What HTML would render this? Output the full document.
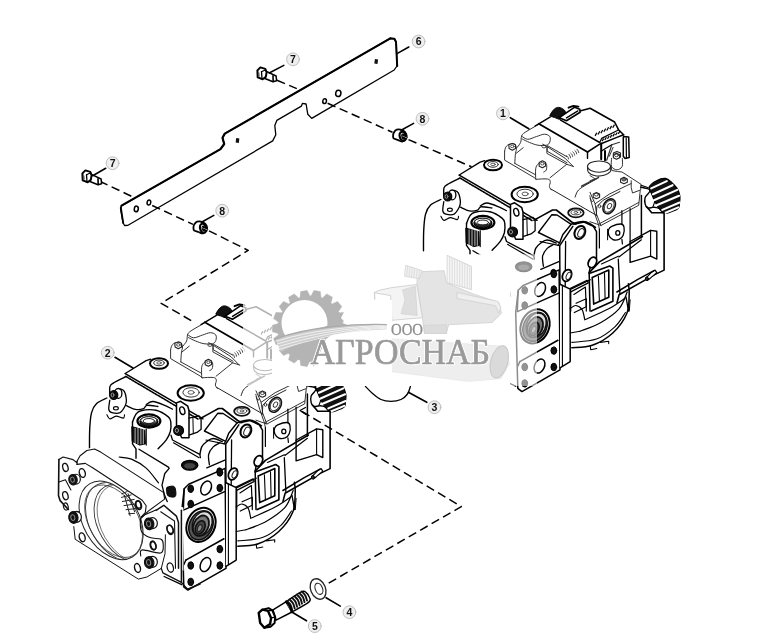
<!DOCTYPE html>
<html><head><meta charset="utf-8"><title>Hydrostatic pump</title>
<style>
html,body{margin:0;padding:0;background:#fff;}
body{width:781px;height:641px;overflow:hidden;font-family:"Liberation Sans",sans-serif;}
svg{display:block;will-change:transform;filter:blur(0.35px);}
.c{font-family:"Liberation Sans",sans-serif;font-weight:bold;font-size:10.5px;fill:#111;text-anchor:middle}
</style></head><body>
<svg width="781" height="641" viewBox="0 0 781 641" stroke-linecap="round" stroke-linejoin="round">
<defs>
<g id="pump">
<path d="M459.2,175 L480.1,162.1 484.8,160.7" fill="none" stroke="#000" stroke-width="1.3" />
<path d="M459.2,175.2 L537,220.3" fill="none" stroke="#000" stroke-width="1.5" />
<path d="M459.8,177.9 L532.9,221.1" fill="none" stroke="#000" stroke-width="1.6" stroke-dasharray="2.2 1.2"/>
<ellipse cx="493" cy="165" rx="9.01408" ry="5.3265" transform="rotate(0 493 165)" fill="#fff" stroke="#000" stroke-width="2.0"/>
<ellipse cx="493" cy="164.4" rx="5.3265" ry="2.86812" transform="rotate(0 493 164.4)" fill="none" stroke="#333" stroke-width="1.0"/>
<ellipse cx="493" cy="164.4" rx="2.25352" ry="1.22919" transform="rotate(0 493 164.4)" fill="none" stroke="#333" stroke-width="0.8"/>
<ellipse cx="524.7" cy="194.5" rx="13.1114" ry="7.78489" transform="rotate(0 524.7 194.5)" fill="#fff" stroke="#000" stroke-width="2.0"/>
<ellipse cx="525.1" cy="193.9" rx="8.19462" ry="4.71191" transform="rotate(0 525.1 193.9)" fill="none" stroke="#333" stroke-width="1.0"/>
<ellipse cx="525.1" cy="193.9" rx="3.07298" ry="1.84379" transform="rotate(0 525.1 193.9)" fill="none" stroke="#333" stroke-width="0.8"/>
<path d="M459.2,178.5 C457.2,179.5 449.8,183.0 447.3,184.6 C444.8,186.2 444.6,186.1 444,187.9 C443.4,189.7 443.8,194.2 443.8,195.5" fill="none" stroke="#000" stroke-width="1.4" />
<ellipse cx="447.7" cy="196.5" rx="4.09731" ry="4.50704" transform="rotate(0 447.7 196.5)" fill="#111" stroke="#000" stroke-width="1.2"/>
<ellipse cx="452.2" cy="194.9" rx="3.68758" ry="4.91677" transform="rotate(0 452.2 194.9)" fill="none" stroke="#000" stroke-width="1.3"/>
<ellipse cx="446.5" cy="196.5" rx="1.43406" ry="1.84379" transform="rotate(0 446.5 196.5)" fill="none" stroke="#999" stroke-width="1.0"/>
<path d="M443.8,201.7 C443.6,203.2 442.5,208.8 442.8,210.9 C443.1,213.0 444.0,213.6 445.9,214.1 C447.8,214.6 451.8,215.2 454,214.1 C456.2,212.9 458.1,209.3 459.2,207.2 C460.3,205.1 460.5,204.1 460.4,201.7 C460.2,199.3 459.4,194.7 458.3,192.8 C457.2,190.9 454.7,190.8 454,190.4" fill="none" stroke="#000" stroke-width="1.3" />
<ellipse cx="449.9" cy="209.8" rx="2.45839" ry="1.63892" transform="rotate(0 449.9 209.8)" fill="none" stroke="#000" stroke-width="1.1"/>
<path d="M460.4,207.2 C461.9,207.8 466.5,210.4 469.4,210.9 C472.3,211.4 475.7,210.8 477.6,210.1 C479.5,209.4 478.5,207.2 480.9,206.8 C483.3,206.5 490.1,207.8 491.9,208" fill="none" stroke="#000" stroke-width="1.3" />
<path d="M504.6,151.5 L504.6,160.1 534.1,177.5 536.2,179.3" fill="none" stroke="#333" stroke-width="1.0" />
<path d="M514.8,163.4 L535.7,174.9" fill="none" stroke="#333" stroke-width="1.0" />
<path d="M504.6,151.5 C504.8,150.9 504.9,148.8 505.5,147.7 C506.1,146.6 506.9,145.3 508.4,144.7 C509.8,144.0 512.9,143.2 514.2,143.8 C515.6,144.4 516.3,146.9 516.5,148.5 C516.7,150.1 515.8,150.9 515.5,153.4 C515.2,155.9 514.9,161.7 514.8,163.4" fill="none" stroke="#333" stroke-width="1.0" />
<path d="M508.8,144.7 L512.3,143.4 515.5,144.7 515.5,148.5 512.3,150.2 509.1,148.5 Z" fill="#fff" stroke="#222" stroke-width="1.1" />
<ellipse cx="512.3" cy="146.4" rx="1.79257" ry="1.28041" transform="rotate(0 512.3 146.4)" fill="none" stroke="#444" stroke-width="0.9"/>
<path d="M516.1,148.5 C516.9,147.5 519.7,144.6 520.6,142.5 C521.5,140.4 520.9,137.8 521.6,136.1 C522.4,134.4 522.3,134.2 525.1,132.3 C527.9,130.4 536.1,125.9 538.3,124.6" fill="none" stroke="#333" stroke-width="1.0" />
<path d="M521.6,136.1 C522.6,136.6 525.2,139.2 527.7,139.3 C530.2,139.4 533.8,137.3 536.6,136.5 C539.4,135.7 542.1,134.2 544.3,134.2 C546.5,134.2 548.9,135.2 549.8,136.5 C550.7,137.8 550.3,140.7 549.8,142.1 C549.2,143.5 548.5,144.7 546.5,145.2 C544.5,145.7 540.7,145.6 537.9,145.2 C535.1,144.8 532.2,143.5 529.6,142.5 C527.0,141.5 523.7,139.7 522.5,139.1" fill="none" stroke="#333" stroke-width="1.0" />
<ellipse cx="544" cy="146.5" rx="2.1767" ry="1.40845" transform="rotate(0 544 146.5)" fill="none" stroke="#333" stroke-width="0.9"/>
<path d="M546.9,146.4 L546.9,153.4 566.7,164.3 573.4,166.5" fill="none" stroke="#333" stroke-width="1.0" />
<path d="M547.5,145.7 L566.7,156.6" fill="none" stroke="#333" stroke-width="1.0" />
<path d="M523.2,147.7 L516.1,153.4" fill="none" stroke="#333" stroke-width="1.0" />
<path d="M535.7,179 C535.7,177.3 535.3,171.2 535.7,168.8 C536.1,166.4 536.7,165.5 537.9,164.3 C539.1,163.1 541.6,161.7 543,161.7 C544.4,161.7 546.0,162.9 546.5,164.3 C547.0,165.7 546.7,168.8 546.2,170.1 C545.7,171.4 544.1,171.7 543.7,172" fill="none" stroke="#333" stroke-width="1.0" />
<path d="M539.2,162.6 L542.4,160.8 545.6,162.4 545.6,166 542.4,167.8 539.2,166.2 Z" fill="#fff" stroke="#222" stroke-width="1.1" />
<ellipse cx="542.4" cy="163.7" rx="1.79257" ry="1.28041" transform="rotate(0 542.4 163.7)" fill="none" stroke="#444" stroke-width="0.9"/>
<path d="M536.2,179.3 C538.1,179.2 545.1,178.6 547.5,179 C549.9,179.4 550.0,180.3 550.3,181.6 C550.6,182.9 549.2,185.3 549.4,186.7 C549.6,188.1 551.0,189.4 551.3,189.9" fill="none" stroke="#333" stroke-width="1.0" />
<path d="M550.1,177.7 L566.7,164.3" fill="none" stroke="#333" stroke-width="1.0" />
<path d="M566.7,155.7 C566.9,156.0 567.7,156.8 568,157.3 C568.3,157.9 568.4,158.7 568.5,159" fill="none" stroke="#333" stroke-width="0.9" />
<path d="M568.8,154.4 C569.0,154.7 569.7,155.4 570,156 C570.3,156.6 570.4,157.5 570.5,157.8" fill="none" stroke="#333" stroke-width="0.9" />
<path d="M570.8,153.2 C571.0,153.4 571.8,154.1 572.1,154.7 C572.4,155.2 572.5,156.2 572.6,156.5" fill="none" stroke="#333" stroke-width="0.9" />
<path d="M572.8,151.9 C573.0,152.2 573.8,152.9 574.1,153.4 C574.4,153.9 574.5,154.9 574.6,155.2" fill="none" stroke="#333" stroke-width="0.9" />
<path d="M574.9,150.6 C575.1,150.8 575.9,151.5 576.2,152.1 C576.5,152.7 576.6,153.6 576.7,153.9" fill="none" stroke="#333" stroke-width="0.9" />
<path d="M576.9,149.3 C577.1,149.6 577.9,150.4 578.2,150.9 C578.5,151.4 578.6,152.3 578.7,152.6" fill="none" stroke="#333" stroke-width="0.9" />
<path d="M538.8,123.8 L587.5,152" fill="none" stroke="#000" stroke-width="1.8" />
<path d="M560.6,120.2 L599.7,142.5" fill="none" stroke="#000" stroke-width="1.5" />
<path d="M535,126 L538.8,123.8 550.4,116.9" fill="none" stroke="#000" stroke-width="1.4" />
<path d="M564.4,117.9 L573.4,112.8 590.1,108.2 614.6,122 618.5,129.7 623.6,134.8" fill="none" stroke="#000" stroke-width="1.6" />
<path d="M587.5,152 L599.7,144.2 616.9,137.4 623.6,134.8" fill="none" stroke="#000" stroke-width="1.5" />
<path d="M587.5,152 L587.5,158.4" fill="none" stroke="#000" stroke-width="1.4" />
<path d="M599.7,142.5 L601.6,138.4 616.9,130.7 618.5,129.7" fill="none" stroke="#000" stroke-width="1.2" />
<path d="M550.1,115.4 C550.1,114.1 552.8,110.5 554.2,109.2 C555.6,107.9 557.1,107.3 558.7,107.4 C560.3,107.5 562.6,108.5 563.8,109.6 C565.0,110.7 566.2,112.5 565.7,114.1 C565.2,115.7 562.5,118.7 560.6,119.2 C558.7,119.7 556.0,117.9 554.2,117.3 C552.5,116.7 550.1,116.8 550.1,115.4 Z" fill="#111" stroke="#000" stroke-width="1.0" />
<path d="M559.3,117.7 L574.7,107.2 579.8,109.2 580.1,112.3 566.5,120.7 Z" fill="#fff" stroke="#000" stroke-width="1.6" />
<path d="M566.5,117.9 L577.9,110.9" fill="none" stroke="#000" stroke-width="1.4" />
<path d="M568.5,107.7 L573.4,105.8 578.5,106.7" fill="none" stroke="#000" stroke-width="1.8" />
<path d="M596.8,132.7 L595.1,135.9" fill="none" stroke="#000" stroke-width="1.25" stroke-linecap="butt"/>
<path d="M599.8,131.3 L598,134.5" fill="none" stroke="#000" stroke-width="1.25" stroke-linecap="butt"/>
<path d="M602.7,130 L600.9,133.2" fill="none" stroke="#000" stroke-width="1.25" stroke-linecap="butt"/>
<path d="M605.7,128.6 L603.9,131.8" fill="none" stroke="#000" stroke-width="1.25" stroke-linecap="butt"/>
<path d="M608.6,127.3 L606.8,130.5" fill="none" stroke="#000" stroke-width="1.25" stroke-linecap="butt"/>
<path d="M611.6,125.9 L609.8,129.1" fill="none" stroke="#000" stroke-width="1.25" stroke-linecap="butt"/>
<path d="M614.5,124.6 L612.7,127.8" fill="none" stroke="#000" stroke-width="1.25" stroke-linecap="butt"/>
<path d="M603.8,138.5 L602.1,141.2" fill="none" stroke="#000" stroke-width="1.25" stroke-linecap="butt"/>
<path d="M606.4,137.3 L604.8,140" fill="none" stroke="#000" stroke-width="1.25" stroke-linecap="butt"/>
<path d="M609.1,136.1 L607.5,138.8" fill="none" stroke="#000" stroke-width="1.25" stroke-linecap="butt"/>
<path d="M611.8,134.9 L610.2,137.6" fill="none" stroke="#000" stroke-width="1.25" stroke-linecap="butt"/>
<path d="M614.5,133.7 L612.8,136.4" fill="none" stroke="#000" stroke-width="1.25" stroke-linecap="butt"/>
<path d="M617.2,132.5 L615.5,135.1" fill="none" stroke="#000" stroke-width="1.25" stroke-linecap="butt"/>
<path d="M619.9,131.2 L618.2,133.9" fill="none" stroke="#000" stroke-width="1.25" stroke-linecap="butt"/>
<path d="M623.6,136.5 L628.7,137.1 629.2,157.4 624.9,158.4 623.3,156.3 623.3,137.1 Z" fill="#fff" stroke="#000" stroke-width="1.5" />
<path d="M626.2,137.8 L626.4,157.6" fill="none" stroke="#000" stroke-width="1.2" />
<path d="M601.2,143.5 L601.2,159.2" fill="none" stroke="#000" stroke-width="2.0" />
<path d="M605,151 L605,160.2" fill="none" stroke="#000" stroke-width="2.0" />
<path d="M601.2,151.2 L605,148.7 611.8,144.8" fill="none" stroke="#000" stroke-width="1.3" />
<path d="M606.7,160.2 L611.8,144.8 619.5,142.3" fill="none" stroke="#333" stroke-width="1.2" />
<path d="M609.3,156.3 L613.1,147.4" fill="none" stroke="#333" stroke-width="1.0" />
<path d="M587.5,166.6 C587.7,167.6 587.2,170.8 588.5,172.3 C589.8,173.8 592.6,175.3 595.2,175.8 C597.8,176.3 601.6,176.0 604.1,175.3 C606.6,174.6 609.2,173.1 610.3,171.7 C611.4,170.2 610.5,167.4 610.5,166.6" fill="#fff" stroke="#222" stroke-width="1.1" />
<ellipse cx="599" cy="166.6" rx="11.5237" ry="5.6338" transform="rotate(0 599 166.6)" fill="#fff" stroke="#222" stroke-width="1.1"/>
<path d="M613.4,153.1 L616.9,151.5 620.5,153.1 620.5,157 616.9,158.6 613.4,157 Z" fill="#fff" stroke="#222" stroke-width="1.1" />
<ellipse cx="616.9" cy="154.8" rx="1.79257" ry="1.15237" transform="rotate(0 616.9 154.8)" fill="none" stroke="#444" stroke-width="0.9"/>
<path d="M611.6,158.3 C611.6,159.7 610.7,164.7 611.6,166.6 C612.5,168.5 615.1,169.8 616.9,169.8 C618.6,169.8 621.2,168.5 622.1,166.6 C623.0,164.7 622.3,159.7 622.3,158.3" fill="none" stroke="#333" stroke-width="1.0" />
<path d="M542.7,144.2 L547.2,146.7 565.1,158.3 573.4,166.6" fill="none" stroke="#333" stroke-width="1.0" />
<path d="M547.2,146.7 L547.2,151.2 567,162.7" fill="none" stroke="#333" stroke-width="1.0" />
<path d="M611.1,165.4 L611.8,170.5 617.5,171.5 622,172 641,184.3 640.7,189.9 632.5,193 631.2,187.4 631.2,180.7" fill="none" stroke="#333" stroke-width="1.0" />
<path d="M595.1,203.8 L609.2,194.2 626.1,185.9 631.2,183.5" fill="none" stroke="#333" stroke-width="1.0" />
<path d="M590,192.3 L595.1,203.8 596.7,214.7 600.9,225.5 638.7,205.3 640.2,190.7" fill="none" stroke="#333" stroke-width="1.0" />
<path d="M590,221.7 L600.9,225.5" fill="none" stroke="#333" stroke-width="1.0" />
<path d="M590,180.7 L595.1,178.8 590,175.6" fill="none" stroke="#333" stroke-width="0.9" />
<path d="M620.6,179 L623.9,177.3 627.3,179 627.3,182.3 623.9,183.8 620.6,182.3 Z" fill="#fff" stroke="#222" stroke-width="1.1" />
<ellipse cx="623.9" cy="179.6" rx="2.06402" ry="1.39821" transform="rotate(0 623.9 179.6)" fill="#777" stroke="#333" stroke-width="0.9"/>
<path d="M593.2,194 L596.4,192.4 599.6,194 599.6,197.2 596.4,198.7 593.2,197.2 Z" fill="#fff" stroke="#222" stroke-width="1.1" />
<ellipse cx="596.4" cy="194.7" rx="1.98464" ry="1.34443" transform="rotate(0 596.4 194.7)" fill="none" stroke="#333" stroke-width="0.9"/>
<path d="M613.4,154.8 L616.5,153.2 619.6,154.8 619.6,157.8 616.5,159.2 613.4,157.8 Z" fill="#fff" stroke="#222" stroke-width="1.1" />
<ellipse cx="616.5" cy="155.4" rx="1.90525" ry="1.29065" transform="rotate(0 616.5 155.4)" fill="none" stroke="#333" stroke-width="0.9"/>
<ellipse cx="609.2" cy="206.3" rx="5.6338" ry="7.93854" transform="rotate(30 609.2 206.3)" fill="#fff" stroke="#111" stroke-width="1.6"/>
<ellipse cx="609.2" cy="206.3" rx="4.35339" ry="6.40205" transform="rotate(30 609.2 206.3)" fill="none" stroke="#333" stroke-width="0.9"/>
<ellipse cx="609.5" cy="206.1" rx="1.92061" ry="2.8169" transform="rotate(30 609.5 206.1)" fill="none" stroke="#333" stroke-width="0.9"/>
<ellipse cx="599.6" cy="206.3" rx="1.28041" ry="1.53649" transform="rotate(0 599.6 206.3)" fill="none" stroke="#333" stroke-width="0.9"/>
<path d="M640.6,187.1 C641.5,187.3 644.7,187.9 646.3,188.4 C647.9,188.9 649.9,189.5 650.2,190.3 C650.5,191.2 649.1,192.3 648.3,193.5 C647.4,194.7 645.6,195.9 645.1,197.6 C644.6,199.3 644.7,202.1 645.1,203.8 C645.5,205.5 646.3,207.3 647.6,207.9 C648.9,208.5 651.2,207.5 652.7,207.4 C654.2,207.3 654.8,207.1 656.6,207.6 C658.4,208.1 662.4,209.8 663.6,210.2" fill="none" stroke="#000" stroke-width="1.4" />
<path d="M650.2,190.3 C650.8,191.1 653.2,193.0 654,194.8 C654.8,196.6 654.9,199.1 654.7,201.2 C654.5,203.3 653.0,206.4 652.7,207.4" fill="none" stroke="#000" stroke-width="1.2" />
<path d="M641.2,185.2 L648.3,187.8" fill="none" stroke="#000" stroke-width="1.2" />
<path d="M649.2,187.1 C650.1,185.0 653.9,182.1 656.6,180.7 C659.3,179.2 663.0,178.1 665.5,178.4 C668.0,178.7 670.0,181.0 671.9,182.7 C673.8,184.4 675.8,186.2 677.1,188.4 C678.4,190.6 679.5,193.5 679.9,196.1 C680.3,198.7 679.7,201.8 679.4,203.8 C679.1,205.8 679.5,207.0 678.3,208.3 C677.0,209.6 674.2,210.7 671.9,211.5 C669.6,212.3 666.4,213.9 664.3,213.4 C662.2,212.9 660.7,210.3 659.1,208.3 C657.5,206.3 656.0,203.7 654.7,201.2 C653.4,198.7 652.4,195.8 651.5,193.5 C650.6,191.2 648.4,189.2 649.2,187.1 Z" fill="#111" stroke="#000" stroke-width="1.2" />
<path d="M651.2,188.4 L666.8,181.1" fill="none" stroke="#fff" stroke-width="2.1" />
<path d="M653,194.2 L672.6,185.2" fill="none" stroke="#fff" stroke-width="2.1" />
<path d="M654,200.2 L677.3,189.9" fill="none" stroke="#fff" stroke-width="2.1" />
<path d="M656.6,205.3 L679.1,195.8" fill="none" stroke="#fff" stroke-width="2.1" />
<path d="M662.3,209.9 L679.6,202.5" fill="none" stroke="#fff" stroke-width="2.1" />
<path d="M664.9,213 L678.3,207.4" fill="none" stroke="#fff" stroke-width="2.1" />
<path d="M440.9,199.5 C439.2,200.4 433.2,202.6 430.6,205.1 C428.0,207.6 426.6,210.0 425.5,214.3 C424.4,218.6 424.0,224.6 423.7,230.7 C423.4,236.8 423.5,247.4 423.5,250.7" fill="none" stroke="#000" stroke-width="1.4" />
<path d="M440.9,216.3 C441.4,217.0 442.4,220.2 443.9,220.4 C445.4,220.6 447.9,217.7 450.1,217.6 C452.3,217.5 455.9,219.8 457.3,219.6 C458.7,219.4 458.3,216.9 458.5,216.3" fill="none" stroke="#000" stroke-width="1.1" />
<path d="M480.2,206.1 C481.3,205.6 483.8,202.8 487,203 C490.2,203.2 496.1,205.8 499.3,207.1 C502.5,208.4 505.2,210.0 506.4,210.6" fill="none" stroke="#000" stroke-width="1.3" />
<path d="M466.5,223.5 L466.5,245.4 470,250.3 470,259.8" fill="none" stroke="#000" stroke-width="1.4" />
<path d="M466.5,223.5 C467.0,222.3 468.2,218.2 469.6,216.3 C471.0,214.4 471.5,212.9 474.9,212.2 C478.3,211.4 485.4,210.8 490,211.8 C494.6,212.8 499.8,216.4 502.3,218.4 C504.8,220.4 504.5,221.3 504.8,223.7 C505.1,226.1 505.1,229.8 504.4,232.7 C503.6,235.6 502.4,238.4 500.3,241.3 C498.2,244.2 493.5,248.8 492.1,250.3" fill="none" stroke="#000" stroke-width="1.4" />
<ellipse cx="482.9" cy="222.5" rx="11.4725" ry="6.5557" transform="rotate(0 482.9 222.5)" fill="#fff" stroke="#000" stroke-width="2.2"/>
<ellipse cx="482.9" cy="223.1" rx="9.01408" ry="4.71191" transform="rotate(0 482.9 223.1)" fill="#222" stroke="#000" stroke-width="1.2"/>
<ellipse cx="482.9" cy="221.7" rx="8.19462" ry="3.48271" transform="rotate(0 482.9 221.7)" fill="#fff" stroke="#222" stroke-width="1.0"/>
<ellipse cx="482.9" cy="222.5" rx="5.73624" ry="2.45839" transform="rotate(0 482.9 222.5)" fill="none" stroke="#222" stroke-width="1.0"/>
<path d="M466.1,228.2 L478.8,231.7 479.4,245.4 473.7,246.6 466.5,243 Z" fill="#111" stroke="#000" stroke-width="1.0" />
<path d="M469.1,229.8 L469.1,245.4" fill="none" stroke="#fff" stroke-width="0.7" />
<path d="M472,229.8 L472,245.4" fill="none" stroke="#fff" stroke-width="0.7" />
<path d="M474.9,229.8 L474.9,245.4" fill="none" stroke="#fff" stroke-width="0.7" />
<path d="M477.3,229.8 L477.3,245.4" fill="none" stroke="#fff" stroke-width="0.7" />
<path d="M480.2,230.7 L480.2,246.6" fill="none" stroke="#000" stroke-width="1.2" />
<path d="M453.2,258.5 C455.2,258.9 461.0,258.8 465.5,260.6 C470.0,262.5 475.7,265.7 480.2,269.6 C484.7,273.6 490.4,281.9 492.5,284.3" fill="none" stroke="#000" stroke-width="1.2" />
<path d="M510.5,204.4 L514.6,202.8 521.8,207.7 523,212.2 523,239.3 515.7,239.3 510.5,227.8 Z" fill="#fff" stroke="#000" stroke-width="1.5" />
<ellipse cx="516.3" cy="212.2" rx="2.45839" ry="3.89245" transform="rotate(-15 516.3 212.2)" fill="none" stroke="#000" stroke-width="1.4"/>
<ellipse cx="512.6" cy="231.9" rx="4.91677" ry="4.91677" transform="rotate(0 512.6 231.9)" fill="#111" stroke="#000" stroke-width="1.2"/>
<ellipse cx="510.9" cy="231.9" rx="1.63892" ry="2.04866" transform="rotate(0 510.9 231.9)" fill="none" stroke="#999" stroke-width="1.0"/>
<path d="M523,219.6 L533.1,217.4 535.1,220.4 535.1,230.7 531,233.9 523.6,236.4" fill="none" stroke="#000" stroke-width="1.3" />
<path d="M526.9,218.8 L527.3,235.2" fill="none" stroke="#000" stroke-width="1.0" />
<path d="M590.2,198.4 L593.7,210.7 598.4,224.3 638.7,202.5" fill="none" stroke="#333" stroke-width="1.0" />
<path d="M598.4,224.3 L599.4,229.2" fill="none" stroke="#333" stroke-width="1.0" />
<ellipse cx="575.9" cy="212.8" rx="7.78489" ry="4.50704" transform="rotate(0 575.9 212.8)" fill="#fff" stroke="#111" stroke-width="1.8"/>
<ellipse cx="575.9" cy="212.4" rx="4.91677" ry="2.45839" transform="rotate(0 575.9 212.4)" fill="none" stroke="#333" stroke-width="0.9"/>
<ellipse cx="575.9" cy="212.4" rx="1.84379" ry="1.02433" transform="rotate(0 575.9 212.4)" fill="none" stroke="#333" stroke-width="0.8"/>
<path d="M573.8,224.3 L584,222 593.3,226.3 596.5,231.6 596.5,261.1 590.4,266 589.2,272.6" fill="none" stroke="#000" stroke-width="1.5" />
<path d="M572.8,226.3 L559.7,245.6 560.1,311.1" fill="none" stroke="#000" stroke-width="1.5" />
<path d="M565.6,241.5 L565,311.1" fill="none" stroke="#000" stroke-width="1.3" />
<path d="M540,241.5 L559.7,245.6" fill="none" stroke="#000" stroke-width="1.2" />
<ellipse cx="579.9" cy="232.4" rx="5.12164" ry="6.76056" transform="rotate(25 579.9 232.4)" fill="#fff" stroke="#000" stroke-width="2.0"/>
<ellipse cx="581" cy="232.9" rx="2.86812" ry="4.50704" transform="rotate(25 581 232.9)" fill="none" stroke="#222" stroke-width="1.0"/>
<ellipse cx="592.4" cy="262.4" rx="3.89245" ry="5.53137" transform="rotate(25 592.4 262.4)" fill="#fff" stroke="#000" stroke-width="1.8"/>
<ellipse cx="567" cy="275.5" rx="4.30218" ry="6.14597" transform="rotate(25 567 275.5)" fill="#fff" stroke="#000" stroke-width="1.8"/>
<ellipse cx="568.7" cy="275.9" rx="2.25352" ry="3.89245" transform="rotate(25 568.7 275.9)" fill="none" stroke="#222" stroke-width="1.0"/>
<ellipse cx="553.5" cy="272.6" rx="2.66325" ry="3.27785" transform="rotate(0 553.5 272.6)" fill="#111" stroke="#000" stroke-width="1.0"/>
<ellipse cx="553.5" cy="289" rx="2.66325" ry="3.27785" transform="rotate(0 553.5 289)" fill="#111" stroke="#000" stroke-width="1.0"/>
<path d="M599.4,229.2 L599.4,248" fill="none" stroke="#000" stroke-width="1.2" />
<path d="M607.6,229.2 L607.6,239.8" fill="none" stroke="#000" stroke-width="1.0" />
<path d="M621.9,210.7 L621.9,224.3" fill="none" stroke="#000" stroke-width="1.2" />
<path d="M621.9,239.4 L622.4,243.9" fill="none" stroke="#000" stroke-width="1.2" />
<path d="M630.1,208.7 L630.1,241.9" fill="none" stroke="#000" stroke-width="1.2" />
<path d="M608.6,229.6 C609.1,228.1 609.7,227.2 611.7,226.3 C613.8,225.4 618.9,223.9 620.9,224 C622.9,224.1 623.6,225.2 624,227.1 C624.4,229.0 624.0,233.2 623.2,235.3 C622.4,237.4 620.8,238.7 619.1,239.4 C617.4,240.1 614.6,240.3 612.9,239.6 C611.2,238.9 609.5,237.0 608.8,235.3 C608.1,233.6 608.1,231.1 608.6,229.6 Z" fill="#fff" stroke="#000" stroke-width="1.3" />
<ellipse cx="617.8" cy="232.9" rx="2.04866" ry="2.25352" transform="rotate(0 617.8 232.9)" fill="none" stroke="#000" stroke-width="1.3"/>
<path d="M641.4,195.4 L641.4,237.8" fill="none" stroke="#000" stroke-width="1.5" />
<path d="M646.5,206.6 L651.7,212.8 664.1,212.8 664.1,270.1 654.7,274.6 619.1,294.7 617,302.9" fill="none" stroke="#000" stroke-width="1.6" />
<path d="M630.1,241.5 L650.6,230.4 656.8,231.2 656.8,259.1 650.6,256.2 630.1,262.4 Z" fill="none" stroke="#000" stroke-width="1.4" />
<path d="M650.6,230.4 L650.6,256.2" fill="none" stroke="#000" stroke-width="1.1" />
<path d="M589.2,272.6 L599.4,261.9 642.4,236.5" fill="none" stroke="#000" stroke-width="1.6" />
<path d="M618.9,257 L641.4,239.8" fill="none" stroke="#000" stroke-width="1.2" />
<path d="M618.3,259.1 L619.9,293.9" fill="none" stroke="#000" stroke-width="1.3" />
<path d="M601.5,264 L618.3,256.2" fill="none" stroke="#000" stroke-width="1.2" />
<path d="M589.2,273.4 L609.7,266 612.9,268.1 612.9,301.3 591.2,311.1" fill="none" stroke="#000" stroke-width="1.6" />
<path d="M592.2,277.5 L608.8,270.1 608.8,297.2 593.7,304.1 Z" fill="none" stroke="#000" stroke-width="1.6" />
<path d="M598.4,276.3 L599.4,301.3" fill="none" stroke="#000" stroke-width="1.1" />
<path d="M604.5,273.4 L605.1,298.4" fill="none" stroke="#000" stroke-width="1.1" />
<path d="M589.2,273.4 L590,311.1" fill="none" stroke="#000" stroke-width="1.5" />
<path d="M645.5,278.7 L651.7,272.2 655.1,270.1 656.8,272.6 650.6,277.9 647.3,280.4 Z" fill="#fff" stroke="#000" stroke-width="1.2" />
<ellipse cx="646.9" cy="278.7" rx="1.43406" ry="1.84379" transform="rotate(0 646.9 278.7)" fill="#333" stroke="#000" stroke-width="1.0"/>
<path d="M569.9,288.6 L587.1,280.4 588.3,282.8 570.7,291.9 Z" fill="none" stroke="#000" stroke-width="1.3" />
<path d="M570.7,291.9 L570.7,311.1" fill="none" stroke="#000" stroke-width="1.3" />
<path d="M576.1,303.3 L586.3,298.8 586.3,311.1" fill="none" stroke="#000" stroke-width="1.2" />
<path d="M626,296.8 L628.5,311.1" fill="none" stroke="#000" stroke-width="1.3" />
<path d="M630.1,299.8 L629.3,311.1" fill="none" stroke="#000" stroke-width="1.0" />
<path d="M518.2,290.3 L522.7,285.8 559.1,269.9 560,369.8 521.9,391.6 517.8,388.3 515.7,312.5 Z" fill="#fff" stroke="#000" stroke-width="1.5" />
<path d="M518.2,290.3 L517.4,310.8" fill="none" stroke="#000" stroke-width="1.4" />
<path d="M517.4,311.7 L558.7,293.2" fill="none" stroke="#000" stroke-width="1.4" />
<path d="M519.8,361.6 L557.9,340.3" fill="none" stroke="#000" stroke-width="1.6" />
<path d="M519.8,361.6 L517.8,366.1" fill="none" stroke="#000" stroke-width="1.4" />
<ellipse cx="540.1" cy="289.5" rx="4.91677" ry="7.37516" transform="rotate(25 540.1 289.5)" fill="#fff" stroke="#000" stroke-width="1.5"/>
<ellipse cx="524.7" cy="290.3" rx="2.86812" ry="3.68758" transform="rotate(0 524.7 290.3)" fill="#111" stroke="#000" stroke-width="1.0"/>
<ellipse cx="524.7" cy="305.5" rx="2.86812" ry="3.68758" transform="rotate(0 524.7 305.5)" fill="#111" stroke="#000" stroke-width="1.0"/>
<ellipse cx="553.8" cy="289.5" rx="2.86812" ry="3.68758" transform="rotate(0 553.8 289.5)" fill="#111" stroke="#000" stroke-width="1.0"/>
<ellipse cx="553.8" cy="274" rx="2.86812" ry="3.68758" transform="rotate(0 553.8 274)" fill="#111" stroke="#000" stroke-width="1.0"/>
<ellipse cx="535" cy="326.4" rx="13.9309" ry="17.6184" transform="rotate(25 535 326.4)" fill="#fff" stroke="#000" stroke-width="2.0"/>
<ellipse cx="535" cy="326.8" rx="11.4725" ry="15.1601" transform="rotate(25 535 326.8)" fill="#555" stroke="#111" stroke-width="1.6"/>
<ellipse cx="536.2" cy="325.2" rx="9.42382" ry="12.7017" transform="rotate(25 536.2 325.2)" fill="#ddd" stroke="#111" stroke-width="1.4"/>
<ellipse cx="535" cy="327.2" rx="7.37516" ry="10.653" transform="rotate(25 535 327.2)" fill="#777" stroke="#111" stroke-width="1.8"/>
<ellipse cx="534.2" cy="328.9" rx="4.50704" ry="6.96543" transform="rotate(25 534.2 328.9)" fill="#444" stroke="#111" stroke-width="1.6"/>
<ellipse cx="533.7" cy="329.7" rx="2.04866" ry="3.68758" transform="rotate(25 533.7 329.7)" fill="#888" stroke="#222" stroke-width="1.2"/>
<ellipse cx="539.5" cy="366.1" rx="4.91677" ry="7.37516" transform="rotate(25 539.5 366.1)" fill="#fff" stroke="#000" stroke-width="1.5"/>
<ellipse cx="524.7" cy="367" rx="2.86812" ry="3.68758" transform="rotate(0 524.7 367)" fill="#111" stroke="#000" stroke-width="1.0"/>
<ellipse cx="524.7" cy="383.4" rx="2.86812" ry="3.68758" transform="rotate(0 524.7 383.4)" fill="#111" stroke="#000" stroke-width="1.0"/>
<ellipse cx="553.8" cy="350.6" rx="2.86812" ry="3.68758" transform="rotate(0 553.8 350.6)" fill="#111" stroke="#000" stroke-width="1.0"/>
<ellipse cx="553.8" cy="367" rx="2.86812" ry="3.68758" transform="rotate(0 553.8 367)" fill="#111" stroke="#000" stroke-width="1.0"/>
<path d="M560,284.2 L570.2,289.1 570.2,361.6 560,367.8" fill="#fff" stroke="#000" stroke-width="1.5" />
<path d="M562.4,285.8 L562.4,366.1" fill="none" stroke="#000" stroke-width="1.1" />
<path d="M498.1,378 L515.7,386.2" fill="none" stroke="#000" stroke-width="1.3" />
<path d="M570.2,308.4 C571.2,307.9 573.9,305.3 575.9,305.5 C577.9,305.7 580.6,307.4 582.1,309.6 C583.6,311.9 584.2,317.4 584.6,319" fill="none" stroke="#000" stroke-width="1.2" />
<path d="M571.8,347.7 C575.2,347.3 585.5,347.8 592.3,345.3 C599.1,342.9 607.0,338.3 612.8,333 C618.5,327.7 624.1,320.0 626.8,313.5 C629.5,307.0 628.9,298.9 629.2,294 C629.5,289.1 628.5,285.5 628.4,283.8" fill="none" stroke="#000" stroke-width="1.5" />
<path d="M580,331.3 C583.4,329.9 594.0,326.4 600.5,322.7 C607.0,318.9 614.5,313.9 619,308.8 C623.5,303.7 625.8,294.8 627.2,292" fill="none" stroke="#000" stroke-width="1.2" />
<path d="M571.8,342.4 C575.9,341.8 589.2,341.7 596.4,339.1 C603.6,336.5 610.0,331.2 614.9,326.8 C619.8,322.4 623.7,314.9 625.5,312.5" fill="none" stroke="#000" stroke-width="1.1" />
<path d="M584.6,319.8 C588.6,318.0 602.0,312.4 608.7,308.8 C615.5,305.2 622.4,299.9 625.1,298.1" fill="none" stroke="#000" stroke-width="1.2" />
<path d="M590.3,346.1 L590.7,349.8 596.8,348.5" fill="none" stroke="#000" stroke-width="1.1" />
<path d="M600.5,342.4 L608.7,341.2 608.7,343.6" fill="none" stroke="#000" stroke-width="1.1" />
<path d="M571,289.1 L590.3,279.7" fill="none" stroke="#000" stroke-width="1.2" />
<path d="M573.9,294.4 L585.4,287.1 586.2,306.7 574.3,312.5" fill="none" stroke="#000" stroke-width="1.2" />
<path d="M616.9,292 L637.4,279.7 654,270.7" fill="none" stroke="#000" stroke-width="1.5" />
<path d="M570.2,333 L580,331.3" fill="none" stroke="#000" stroke-width="1.1" />
<path d="M533.9,220.2 L542.3,215.6 552.5,210 556.3,210 571.7,222 575.8,224.1" fill="none" stroke="#000" stroke-width="1.6" />
<path d="M538.4,232.5 L551.9,214.7 557.1,215 571.2,224.3 562.7,234.8 559.7,242.8 Z" fill="none" stroke="#000" stroke-width="1.4" />
<path d="M571.2,224.3 C572.1,224.0 574.8,223.0 576.8,222.5 C578.8,222.0 581.1,221.3 583.2,221.4 C585.3,221.5 587.6,222.3 589.6,223.3 C591.6,224.3 594.5,226.7 595.5,227.4" fill="none" stroke="#000" stroke-width="1.5" />
<path d="M559.7,242.8 L557.9,245.3" fill="none" stroke="#000" stroke-width="1.2" />
<path d="M473,250.7 L502.4,268.6 503.2,269.9 498.8,275 496,286.6 498.6,296.8 501.4,303.5" fill="none" stroke="#000" stroke-width="1.3" />
<path d="M505,236.6 L506.5,241.5 533.8,255.8 534.4,259" fill="none" stroke="#000" stroke-width="1.3" />
<path d="M507.5,244.3 L533.1,259.2" fill="none" stroke="#000" stroke-width="1.2" />
<path d="M533.9,255.8 C534.2,254.6 534.6,250.5 535.7,248.4 C536.9,246.3 538.9,244.4 540.8,243 C542.7,241.6 544.6,240.0 547.2,240 C549.8,240.0 554.7,242.5 556.2,243" fill="none" stroke="#000" stroke-width="1.4" />
<path d="M543.4,266.3 C543.3,264.6 542.0,259.1 542.6,256.1 C543.2,253.1 545.3,250.4 547.2,248.4 C549.1,246.4 552.8,245.0 553.9,244.3" fill="none" stroke="#000" stroke-width="1.3" />
<path d="M540.8,269.4 L558.8,261.7" fill="none" stroke="#000" stroke-width="1.3" />
<ellipse cx="523.7" cy="266.8" rx="8.19462" ry="4.86556" transform="rotate(0 523.7 266.8)" fill="#111" stroke="#000" stroke-width="1.2"/>
<ellipse cx="523.7" cy="267.4" rx="5.12164" ry="2.30474" transform="rotate(0 523.7 267.4)" fill="#444" stroke="#444" stroke-width="0.8"/>
<path d="M501.1,288.9 C502.2,288.0 506.1,287.3 507.5,287.8 C508.9,288.3 509.3,290.0 509.6,291.7 C509.9,293.4 510.3,297.1 509.1,298.1 C507.9,299.1 503.8,298.5 502.4,297.6 C501.0,296.8 500.8,294.4 500.6,293 C500.4,291.6 500.0,289.8 501.1,288.9 Z" fill="#111" stroke="#000" stroke-width="1.0" />
<path d="M550.7,188.9 L596.8,215.5" fill="none" stroke="#222" stroke-width="1.0" />
<path d="M575.1,197.1 C575.5,196.1 576.3,192.9 577.6,191.2 C578.9,189.5 579.5,189.0 582.7,186.9 C585.9,184.8 594.4,180.1 596.8,178.7" fill="none" stroke="#222" stroke-width="1.0" />
<path d="M581.7,186.1 L598.4,177.6" fill="none" stroke="#333" stroke-width="1.6" stroke-dasharray="1.2 1"/>
<path d="M596.3,215.8 L596.8,206.6 603.2,200.2 620,191.5" fill="none" stroke="#222" stroke-width="1.0" />
<path d="M589.8,195.8 C590.1,196.8 591.0,200.8 591.7,201.5 C592.4,202.2 593.4,200.4 593.8,200.2" fill="none" stroke="#222" stroke-width="0.9" />
</g>
</defs>
<rect width="781" height="641" fill="#fff"/>
<path d="M121.8,205.6 L220.5,149.1 224.2,144 222.5,137.8 224.8,133.6 390.3,38.4 394.5,38.6 396.2,42 397,66 394.2,70 311.7,118.4 307.8,114.3 306.1,104 302.4,103.4 301.4,106.1 276.8,120.4 274.8,125.6 275.8,134.8 272.7,140.9 128,225.3 124.5,225.5 123,222.5 120.5,208.5 Z" fill="#fff" stroke="#000" stroke-width="1.3" />
<path d="M121.5,205.6 L220.5,149.1 224.2,144 222.5,137.8 224.8,133.6 390.3,38.4" fill="none" stroke="#000" stroke-width="2.2" />
<path d="M120.8,207.5 L123.2,223" fill="none" stroke="#000" stroke-width="1.8" />
<path d="M390.3,38.4 L394.3,38.8 396,42 397.2,66" fill="none" stroke="#000" stroke-width="2.0" />
<ellipse cx="338.3" cy="93.4" rx="2.6" ry="3.2" transform="rotate(10 338.3 93.4)" fill="#fff" stroke="#000" stroke-width="1.5"/>
<ellipse cx="324.6" cy="101.2" rx="1.8" ry="2.4" transform="rotate(10 324.6 101.2)" fill="#fff" stroke="#000" stroke-width="1.5"/>
<ellipse cx="136.3" cy="208.9" rx="2" ry="2.8" transform="rotate(10 136.3 208.9)" fill="#fff" stroke="#000" stroke-width="1.5"/>
<ellipse cx="148.9" cy="202.5" rx="1.8" ry="2.6" transform="rotate(10 148.9 202.5)" fill="#fff" stroke="#000" stroke-width="1.5"/>
<rect x="374.59999999999997" y="59.3" width="3.2" height="4.4" fill="#111" transform="rotate(8 376.2 61.5)"/>
<rect x="235.9" y="138.3" width="3.2" height="4.4" fill="#111" transform="rotate(8 237.5 140.5)"/>
<use href="#pump"/>
<use href="#pump" transform="translate(-334.0 198.5)"/>
<path d="M58.8,458.8 L73.8,456.4 79.9,454.3 89.2,448.2 99.4,446.1 162.9,493.7 165.4,501.5 183.4,507.6 183.4,571.1 165.4,554.7 Z" fill="#fff" stroke="none" stroke-width="0" />
<path d="M73.8,512.3 L73.8,528.7 75.2,539.9 138.3,579.5 146.9,577.4 161.3,568.6 165.4,553.3 165.4,512.3 Z" fill="#fff" stroke="none" stroke-width="0" />
<path d="M58.9,459.6 L63.1,457 73,459.6 77,462.8" fill="none" stroke="#111" stroke-width="1.2" />
<path d="M58.9,459.6 L58.5,495.7 60.1,500.6 68.4,509.5" fill="none" stroke="#111" stroke-width="1.6" />
<path d="M58.9,481.9 L65.4,479.7 70.9,489.9" fill="none" stroke="#111" stroke-width="1.1" />
<ellipse cx="65.4" cy="467.4" rx="2.61204" ry="4.14853" transform="rotate(-15 65.4 467.4)" fill="none" stroke="#111" stroke-width="1.3"/>
<ellipse cx="65.4" cy="495.7" rx="2.61204" ry="4.14853" transform="rotate(-15 65.4 495.7)" fill="none" stroke="#111" stroke-width="1.3"/>
<ellipse cx="65.8" cy="506.5" rx="2.30474" ry="3.68758" transform="rotate(-15 65.8 506.5)" fill="none" stroke="#111" stroke-width="1.1"/>
<ellipse cx="75.9" cy="479.2" rx="4.44046" ry="4.96287" transform="rotate(0 75.9 479.2)" fill="#fff" stroke="#111" stroke-width="1.2"/>
<ellipse cx="73" cy="479.7" rx="4.17926" ry="5.22407" transform="rotate(-10 73 479.7)" fill="#111" stroke="#111" stroke-width="1.2"/>
<ellipse cx="72.5" cy="479.7" rx="1.82843" ry="2.61204" transform="rotate(-10 72.5 479.7)" fill="none" stroke="#888" stroke-width="1.0"/>
<ellipse cx="76.9" cy="516.7" rx="4.70166" ry="5.2548" transform="rotate(0 76.9 516.7)" fill="#fff" stroke="#111" stroke-width="1.2"/>
<ellipse cx="73.8" cy="517.2" rx="4.4251" ry="5.53137" transform="rotate(-10 73.8 517.2)" fill="#111" stroke="#111" stroke-width="1.2"/>
<ellipse cx="73.3" cy="517.2" rx="1.93598" ry="2.76569" transform="rotate(-10 73.3 517.2)" fill="none" stroke="#888" stroke-width="1.0"/>
<path d="M77,461.3 L80.1,455.8 86.9,450.5 94.6,449 100.7,452.1 163.7,492.6 164.6,499.1 148.3,511.1 142.2,517.2" fill="none" stroke="#111" stroke-width="1.1" />
<path d="M77,464.4 L85.3,463.4 93,468 142.2,500.3 146.2,505.8 145.3,512.6 141,517.2" fill="none" stroke="#111" stroke-width="1.1" />
<path d="M77,461.3 L77,464.4" fill="none" stroke="#111" stroke-width="1.1" />
<ellipse cx="82.3" cy="473" rx="2.91933" ry="4.45583" transform="rotate(-15 82.3 473)" fill="none" stroke="#111" stroke-width="1.4"/>
<ellipse cx="138.5" cy="505.2" rx="2.91933" ry="4.45583" transform="rotate(-15 138.5 505.2)" fill="none" stroke="#111" stroke-width="1.4"/>
<ellipse cx="111.1" cy="520.3" rx="42.4" ry="27.7" transform="rotate(60 111.1 520.3)" fill="#fff" stroke="#222" stroke-width="1.0"/>
<ellipse cx="113.6" cy="521.3" rx="39.5" ry="24.5" transform="rotate(60 113.6 521.3)" fill="none" stroke="#444" stroke-width="0.8"/>
<clipPath id="opc"><ellipse cx="111.1" cy="520.3" rx="42" ry="27.3" transform="rotate(60 111.1 520.3)"/></clipPath>
<g clip-path="url(#opc)"><ellipse cx="117.6" cy="521.8" rx="42.4" ry="27.7" transform="rotate(60 117.6 521.8)" fill="none" stroke="#333" stroke-width="0.9"/><ellipse cx="126.1" cy="523.3" rx="42.4" ry="27.7" transform="rotate(60 126.1 523.3)" fill="none" stroke="#333" stroke-width="0.9"/><ellipse cx="129.1" cy="523.8" rx="42.4" ry="27.7" transform="rotate(60 129.1 523.8)" fill="none" stroke="#555" stroke-width="0.7"/></g>
<path d="M121.9,493.7 L127.1,491.6" fill="none" stroke="#222" stroke-width="1.0" />
<path d="M121.5,497.4 L131.2,494.9" fill="none" stroke="#222" stroke-width="1.0" />
<path d="M122.4,501.5 L134.2,499.4" fill="none" stroke="#222" stroke-width="1.0" />
<path d="M124,505.6 L135.9,503.9" fill="none" stroke="#222" stroke-width="1.0" />
<path d="M126,509.7 L135.9,508.6" fill="none" stroke="#222" stroke-width="1.0" />
<path d="M128.5,513.8 L134.6,513.3" fill="none" stroke="#222" stroke-width="1.0" />
<path d="M124.4,495.3 L130.1,515.8" fill="none" stroke="#222" stroke-width="1.0" />
<path d="M128.1,493.7 L134.6,511.7" fill="none" stroke="#222" stroke-width="1.0" />
<path d="M156.1,509.9 C154.3,510.7 147.9,513.0 145.3,514.6 C142.7,516.2 141.3,516.4 140.7,519.2 C140.1,522.0 140.0,528.4 141.5,531.5 C143.0,534.6 146.7,536.3 149.9,537.6 C153.1,538.9 158.5,538.0 160.7,539.1 C162.9,540.2 163.2,541.8 163.2,544.1 C163.2,546.4 164.2,552.0 160.7,553 C157.2,554.0 145.6,549.4 142.3,549.9 C139.0,550.4 141.0,555.0 140.7,556" fill="none" stroke="#111" stroke-width="1.1" />
<ellipse cx="152.4" cy="523.2" rx="4.96287" ry="5.54673" transform="rotate(0 152.4 523.2)" fill="#fff" stroke="#111" stroke-width="1.2"/>
<ellipse cx="149.2" cy="523.8" rx="4.67093" ry="5.83867" transform="rotate(-10 149.2 523.8)" fill="#111" stroke="#111" stroke-width="1.2"/>
<ellipse cx="148.6" cy="523.8" rx="2.04353" ry="2.91933" transform="rotate(-10 148.6 523.8)" fill="none" stroke="#888" stroke-width="1.0"/>
<ellipse cx="152.4" cy="561.9" rx="4.96287" ry="5.54673" transform="rotate(0 152.4 561.9)" fill="#fff" stroke="#111" stroke-width="1.2"/>
<ellipse cx="149.2" cy="562.5" rx="4.67093" ry="5.83867" transform="rotate(-10 149.2 562.5)" fill="#111" stroke="#111" stroke-width="1.2"/>
<ellipse cx="148.6" cy="562.5" rx="2.04353" ry="2.91933" transform="rotate(-10 148.6 562.5)" fill="none" stroke="#888" stroke-width="1.0"/>
<ellipse cx="138.4" cy="504.6" rx="2.45839" ry="3.68758" transform="rotate(-15 138.4 504.6)" fill="none" stroke="#111" stroke-width="1.4"/>
<ellipse cx="153.3" cy="545.6" rx="2.45839" ry="3.99488" transform="rotate(-15 153.3 545.6)" fill="none" stroke="#111" stroke-width="1.4"/>
<path d="M156.1,510.3 L163.8,505.3 176.4,516.1 178.5,522.5 178.5,568.3" fill="none" stroke="#111" stroke-width="1.5" />
<path d="M160.7,511.8 L174.5,521 175.5,568.3" fill="none" stroke="#111" stroke-width="1.1" />
<ellipse cx="169.9" cy="529.3" rx="2.76569" ry="4.30218" transform="rotate(-20 169.9 529.3)" fill="none" stroke="#111" stroke-width="1.3"/>
<path d="M73.8,526.6 L75.2,539.3 138.3,579.1 146.9,577 161.3,568.4 165,553.7 165.4,534.8" fill="none" stroke="#111" stroke-width="1.0" />
<ellipse cx="82.2" cy="537.3" rx="2.86812" ry="4.50704" transform="rotate(-15 82.2 537.3)" fill="none" stroke="#111" stroke-width="1.4"/>
<ellipse cx="137.5" cy="568" rx="2.86812" ry="4.50704" transform="rotate(-15 137.5 568)" fill="none" stroke="#111" stroke-width="1.4"/>
<ellipse cx="153.1" cy="545.5" rx="2.86812" ry="4.50704" transform="rotate(-15 153.1 545.5)" fill="none" stroke="#111" stroke-width="1.4"/>
<ellipse cx="76.5" cy="517" rx="4.8758" ry="5.44942" transform="rotate(0 76.5 517)" fill="#fff" stroke="#111" stroke-width="1.2"/>
<ellipse cx="73.4" cy="517.6" rx="4.58899" ry="5.73624" transform="rotate(-10 73.4 517.6)" fill="#111" stroke="#111" stroke-width="1.2"/>
<ellipse cx="72.8" cy="517.6" rx="2.00768" ry="2.86812" transform="rotate(-10 72.8 517.6)" fill="none" stroke="#888" stroke-width="1.0"/>
<path d="M161.3,568.4 L162.9,572.9 181.4,582.4 187.5,589.3" fill="none" stroke="#111" stroke-width="1.3" />
<ellipse cx="170.3" cy="529.9" rx="3.07298" ry="4.71191" transform="rotate(-15 170.3 529.9)" fill="none" stroke="#111" stroke-width="1.3"/>
<ellipse cx="170.3" cy="567.6" rx="3.07298" ry="4.71191" transform="rotate(-15 170.3 567.6)" fill="none" stroke="#111" stroke-width="1.3"/>
<path d="M181.4,510.2 L181.4,582.4" fill="none" stroke="#111" stroke-width="1.5" />
<path d="M183.4,586 L187.5,589.3 200,584" fill="none" stroke="#111" stroke-width="1.6" />
<path d="M99.7,181.2 L133,197" fill="none" stroke="#000" stroke-width="1.5" stroke-dasharray="8.6 4.6" stroke-linecap="butt"/>
<path d="M152.2,205.5 L193,224.4" fill="none" stroke="#000" stroke-width="1.5" stroke-dasharray="8.6 4.6" stroke-linecap="butt"/>
<path d="M209,230.8 L248.2,250.4 161.2,303.3 195,322.8" fill="none" stroke="#000" stroke-width="1.5" stroke-dasharray="8.6 4.6" stroke-linecap="butt"/>
<path d="M277,80.3 L296.8,88.6" fill="none" stroke="#000" stroke-width="1.5" stroke-dasharray="8.6 4.6" stroke-linecap="butt"/>
<path d="M327.6,103.2 L392.5,132.3" fill="none" stroke="#000" stroke-width="1.5" stroke-dasharray="8.6 4.6" stroke-linecap="butt"/>
<path d="M408.5,139.6 L471.5,166.8" fill="none" stroke="#000" stroke-width="1.5" stroke-dasharray="8.6 4.6" stroke-linecap="butt"/>
<path d="M302,411.5 L461.3,506.6 328.5,583.2" fill="none" stroke="#000" stroke-width="1.5" stroke-dasharray="8.6 4.6" stroke-linecap="butt"/>
<path d="M305.5,407.5 L300,410.5 306,414.5" fill="none" stroke="#000" stroke-width="1.2" />
<path d="M265.3,70.9 L276.1,76 276.6,80.7 273,81.7 263,77.8 Z" fill="#fff" stroke="#000" stroke-width="1.5" />
<path d="M273,75.8 L273.2,81.5" fill="none" stroke="#000" stroke-width="1.6" />
<path d="M257.4,70.4 L260.4,67.4 265.3,68.9 266.6,72.4 265.8,76.9 262.7,79.2 257.7,77.4 Z" fill="#fff" stroke="#000" stroke-width="2.0" />
<path d="M261.5,71.7 L262,78.7" fill="none" stroke="#000" stroke-width="1.3" />
<path d="M261.5,71.7 L265.3,70.1" fill="none" stroke="#000" stroke-width="1.1" />
<path d="M258.6,73.1 L258.9,76.1" fill="none" stroke="#555" stroke-width="1.6" />
<path d="M90.3,173.9 L101.1,179 101.6,183.7 98,184.7 88,180.8 Z" fill="#fff" stroke="#000" stroke-width="1.5" />
<path d="M98,178.8 L98.2,184.5" fill="none" stroke="#000" stroke-width="1.6" />
<path d="M82.4,173.4 L85.4,170.4 90.3,171.9 91.6,175.4 90.8,179.9 87.7,182.2 82.7,180.4 Z" fill="#fff" stroke="#000" stroke-width="2.0" />
<path d="M86.5,174.7 L87,181.7" fill="none" stroke="#000" stroke-width="1.3" />
<path d="M86.5,174.7 L90.3,173.1" fill="none" stroke="#000" stroke-width="1.1" />
<path d="M83.6,176.1 L83.9,179.1" fill="none" stroke="#555" stroke-width="1.6" />
<path d="M193.5,228.8 C193.4,227.9 193.4,226.1 194,224.9 C194.6,223.7 195.6,222.0 197.1,221.6 C198.6,221.2 201.5,221.6 203.1,222.3 C204.7,223.0 206.0,224.5 206.6,225.7 C207.2,226.9 207.2,228.4 206.6,229.7 C206.0,231.0 204.4,233.0 203.1,233.4 C201.8,233.8 200.0,232.5 198.5,232 C197.0,231.5 195.1,231.0 194.3,230.5 C193.5,230.0 193.6,229.7 193.5,228.8 Z" fill="#fff" stroke="#000" stroke-width="1.8" />
<ellipse cx="203.1" cy="228.2" rx="3" ry="4.6" transform="rotate(-15 203.1 228.2)" fill="#fff" stroke="#000" stroke-width="2.2"/>
<ellipse cx="203.7" cy="228.5" rx="1.3" ry="2.4" transform="rotate(-15 203.7 228.5)" fill="#111" stroke="#000" stroke-width="1.4"/>
<path d="M203.1,227.9 L207.1,229.7" fill="none" stroke="#fff" stroke-width="1.6" />
<path d="M203.1,227.1 L207.7,229.2" fill="none" stroke="#000" stroke-width="1.2" />
<path d="M202.8,228.8 L207.1,230.8" fill="none" stroke="#000" stroke-width="1.2" />
<path d="M393.1,136.9 C393.1,136.0 393.0,134.2 393.6,133 C394.2,131.8 395.2,130.1 396.7,129.7 C398.2,129.3 401.1,129.7 402.7,130.4 C404.3,131.1 405.6,132.6 406.2,133.8 C406.8,135.0 406.8,136.5 406.2,137.8 C405.6,139.1 404.0,141.1 402.7,141.5 C401.4,141.9 399.6,140.6 398.1,140.1 C396.6,139.6 394.7,139.1 393.9,138.6 C393.1,138.1 393.2,137.8 393.1,136.9 Z" fill="#fff" stroke="#000" stroke-width="1.8" />
<ellipse cx="402.7" cy="136.3" rx="3" ry="4.6" transform="rotate(-15 402.7 136.3)" fill="#fff" stroke="#000" stroke-width="2.2"/>
<ellipse cx="403.3" cy="136.6" rx="1.3" ry="2.4" transform="rotate(-15 403.3 136.6)" fill="#111" stroke="#000" stroke-width="1.4"/>
<path d="M402.7,136 L406.7,137.8" fill="none" stroke="#fff" stroke-width="1.6" />
<path d="M402.7,135.2 L407.3,137.3" fill="none" stroke="#000" stroke-width="1.2" />
<path d="M402.4,136.9 L406.7,138.9" fill="none" stroke="#000" stroke-width="1.2" />
<ellipse cx="318.1" cy="589" rx="7.4" ry="10.6" transform="rotate(-22 318.1 589)" fill="#fff" stroke="#222" stroke-width="1.3"/>
<ellipse cx="318.9" cy="588.8" rx="3.6" ry="5.8" transform="rotate(-22 318.9 588.8)" fill="#fff" stroke="#333" stroke-width="1.2"/>
<path d="M273,609.9 L285.9,601.9 292,612 276.1,620.2 Z" fill="#fff" stroke="#000" stroke-width="1.5" />
<path d="M285.9,601.7 C288.4,600.1 297.9,593.5 301.2,591.9 C304.5,590.3 304.5,591.4 305.9,592.3 C307.3,593.2 308.9,595.8 309.4,597.4 C309.9,599.0 311.7,599.7 308.8,602.1 C305.9,604.5 294.6,610.4 291.8,612" fill="#fff" stroke="#000" stroke-width="1.4" />
<path d="M287.1,601 C287.7,601.6 289.8,603.4 290.6,604.9 C291.5,606.4 291.9,609.1 292.2,610" fill="none" stroke="#111" stroke-width="1.9" />
<path d="M289.5,599.4 C290.1,600.0 292.1,601.8 293,603.3 C293.9,604.8 294.4,607.5 294.7,608.4" fill="none" stroke="#111" stroke-width="1.9" />
<path d="M292,597.8 C292.6,598.4 294.6,600.2 295.5,601.7 C296.4,603.2 296.8,605.9 297.1,606.8" fill="none" stroke="#111" stroke-width="1.9" />
<path d="M294.5,596.2 C295.1,596.9 297.0,598.6 297.9,600.1 C298.8,601.6 299.3,604.4 299.6,605.2" fill="none" stroke="#111" stroke-width="1.9" />
<path d="M296.9,594.6 C297.5,595.2 299.5,597.0 300.4,598.5 C301.2,600.0 301.7,602.8 302,603.7" fill="none" stroke="#111" stroke-width="1.9" />
<path d="M299.4,593.1 C300.0,593.8 302.0,595.5 302.9,597 C303.8,598.5 304.2,601.2 304.5,602.1" fill="none" stroke="#111" stroke-width="1.9" />
<path d="M301.8,591.5 C302.4,592.1 304.4,593.9 305.3,595.4 C306.2,596.9 306.7,599.6 307,600.5" fill="none" stroke="#111" stroke-width="1.9" />
<path d="M285.9,601.7 C286.5,602.4 288.5,603.9 289.5,605.6 C290.5,607.3 291.4,610.9 291.8,612" fill="none" stroke="#000" stroke-width="2.2" />
<path d="M262.3,609.7 L268.6,608.1 272.3,610.3 275.2,617.1 274.6,623 270.5,626.7 264.3,627.7 Z" fill="#fff" stroke="#000" stroke-width="2.0" />
<path d="M258.7,612.8 L262.3,609.7 268,610.9 271.1,617.9 270.1,624 264.3,627.7 260.2,623 Z" fill="#fff" stroke="#000" stroke-width="2.4" />
<path d="M268,610.9 L272.3,610.3" fill="none" stroke="#000" stroke-width="1.4" />
<path d="M271.1,617.9 L275.2,617.1" fill="none" stroke="#000" stroke-width="1.4" />
<path d="M365.4,386.4 C366.5,387.5 369.4,390.8 372,393 C374.6,395.2 377.8,398.1 381,399.5 C384.2,400.9 387.7,401.3 391,401.3 C394.3,401.3 398.2,400.7 401,399.5 C403.8,398.3 405.9,396.2 407.5,394 C409.1,391.8 409.9,387.7 410.4,386.4" fill="none" stroke="#000" stroke-width="1.3" />
<rect x="243" y="254.3" width="29.5" height="131.7" fill="#fff" fill-opacity="0.7"/>
<rect x="509.5" y="254.3" width="27.5" height="131.7" fill="#fff" fill-opacity="0.55"/>
<rect x="272" y="254.3" width="238" height="131.7" fill="#fff"/>
<path d="M418,271.8 L444.2,270.7 446.4,282.8 472.6,293.7 498.8,302.4 501.4,313.3 492.3,322.5 448.6,324.7 446.4,333.4 424.6,333.4 422.4,317.7 416.9,284.9 Z" fill="#e4e4e4" stroke="#cfcfcf" stroke-width="0.8" />
<path d="M374.4,292.6 L378.7,290.4 391.8,287.6 416.9,284.5 422.4,317.7 391.8,320.3 390.7,295.9 Z" fill="#f4f4f4" stroke="#cfcfcf" stroke-width="0.9" />
<path d="M402.8,289.7 L415.4,286.2 417.2,315.5 401,313.8 404.9,300.2 Z" fill="#dedede" stroke="#cfcfcf" stroke-width="0.6" />
<path d="M374.4,292.6 L374.8,299.1" fill="none" stroke="#cfcfcf" stroke-width="1.2" />
<path d="M447.5,255.5 L471.5,266.4 471.5,289.7 447.5,282.8 Z" fill="#f6f6f6" stroke="#cfcfcf" stroke-width="0.8" />
<path d="M449.7,257 L449.7,283.2" fill="none" stroke="#d2d2d2" stroke-width="0.7" />
<path d="M452.2,258.1 L452.2,283.9" fill="none" stroke="#d2d2d2" stroke-width="0.7" />
<path d="M454.7,259.2 L454.7,284.6" fill="none" stroke="#d2d2d2" stroke-width="0.7" />
<path d="M457.2,260.3 L457.2,285.3" fill="none" stroke="#d2d2d2" stroke-width="0.7" />
<path d="M459.7,261.4 L459.7,286.1" fill="none" stroke="#d2d2d2" stroke-width="0.7" />
<path d="M462.2,262.4 L462.2,286.8" fill="none" stroke="#d2d2d2" stroke-width="0.7" />
<path d="M464.8,263.5 L464.8,287.5" fill="none" stroke="#d2d2d2" stroke-width="0.7" />
<path d="M467.3,264.6 L467.3,288.2" fill="none" stroke="#d2d2d2" stroke-width="0.7" />
<path d="M469.8,265.7 L469.8,289" fill="none" stroke="#d2d2d2" stroke-width="0.7" />
<path d="M406,265.3 L422.4,270.7 419.1,278.8 404.9,276.2 Z" fill="#f0f0f0" stroke="#cfcfcf" stroke-width="0.7" />
<path d="M407.6,266.4 L406.7,275.8" fill="none" stroke="#d2d2d2" stroke-width="0.6" />
<path d="M410,267.1 L409.1,276.2" fill="none" stroke="#d2d2d2" stroke-width="0.6" />
<path d="M412.4,267.9 L411.5,276.6" fill="none" stroke="#d2d2d2" stroke-width="0.6" />
<path d="M414.8,268.7 L413.9,277.1" fill="none" stroke="#d2d2d2" stroke-width="0.6" />
<path d="M417.2,269.4 L416.3,277.5" fill="none" stroke="#d2d2d2" stroke-width="0.6" />
<path d="M419.6,270.2 L418.7,277.9" fill="none" stroke="#d2d2d2" stroke-width="0.6" />
<path d="M457.3,292.6 L497.7,301.3 501,307.2 498.8,313.3 495.5,305.7 457.3,298.5 Z" fill="#efefef" stroke="#cfcfcf" stroke-width="0.8" />
<path d="M370,337.3 L501,346.1 509.7,363.5 501,378.8 468.3,381.4 370,369 Z" fill="#eeeeee" stroke="#e4e4e4" stroke-width="0.6" />
<ellipse cx="499.258" cy="361.79" rx="8.5" ry="16.5" transform="rotate(15 499.258 361.79)" fill="#dadada" stroke="#c8c8c8" stroke-width="1.0"/>
<path d="M424.6,325.3 L446.4,324.7 446.4,333.4 424.6,333.4 Z" fill="#dcdcdc" stroke="#cfcfcf" stroke-width="0.6" />
<path d="M311.2,295.8 L313.9,290.4 320.3,291.6 321,297.5 322.4,298 326.7,293.9 332.4,297.2 330.9,303 332.1,303.9 337.5,301.5 341.8,306.6 338.4,311.5 339.2,312.8 345.1,312.4 347.4,318.6 342.6,322.1 342.8,323.6 348.6,325.2 348.6,331.8 342.8,333.4 342.6,334.9 347.4,338.4 345.1,344.6 339.2,344.2 338.4,345.5 341.8,350.4 337.5,355.5 332.1,353.1 330.9,354 332.4,359.8 326.7,363.1 322.4,359 321,359.5 320.3,365.4 313.9,366.6 311.2,361.2 309.8,361.2 307.1,366.6 300.7,365.4 300,359.5 298.6,359 294.3,363.1 288.6,359.8 290.1,354 288.9,353.1 283.5,355.5 279.2,350.4 282.6,345.5 281.8,344.2 275.9,344.6 273.6,338.4 278.4,334.9 278.2,333.4 272.4,331.8 272.4,325.2 278.2,323.6 278.4,322.1 273.6,318.6 275.9,312.4 281.8,312.8 282.6,311.5 279.2,306.6 283.5,301.5 288.9,303.9 290.1,303 288.6,297.2 294.3,293.9 298.6,298 300,297.5 300.7,291.6 307.1,290.4 309.8,295.8 Z" fill="#b4b4b4" stroke="#b4b4b4" stroke-width="0.5" />
<circle cx="304.5" cy="323" r="23" fill="#fff"/>
<clipPath id="gcl"><circle cx="310.5" cy="328.5" r="33.5"/></clipPath>
<path d="M268,343 L330,325 L352,323 L352,374 L268,374 Z" fill="#b4b4b4" clip-path="url(#gcl)"/>
<path d="M326,339 L350,322 L352,300 L392,300 L392,372 L311.5,372 Z" fill="#fff"/>
<path d="M341,318 L352,296 L352,330 Z" fill="#fff"/>
<path d="M386.5,324.3 C356,323.5 310,326 275,338.8 L280.8,351.7 C305,338 345,331 386.5,329.2 Z" fill="#cdcdcd"/>
<path d="M276.0,341.4 C310,330.4 350,326.5 386,325.3" fill="none" stroke="#fff" stroke-width="0.7"/>
<path d="M277.2,344 C310,333.6 350,327.5 386,326.3" fill="none" stroke="#fff" stroke-width="0.7"/>
<path d="M278.4,346.6 C310,336.8 350,328.5 386,327.3" fill="none" stroke="#fff" stroke-width="0.7"/>
<path d="M279.6,349.2 C310,340.0 350,329.5 386,328.3" fill="none" stroke="#fff" stroke-width="0.7"/>
<path d="M386.5,324.6 C356,323.8 310,326.3 275,339.1" fill="none" stroke="#aaa" stroke-width="1.3"/>
<text x="391" y="335.3" font-family="'Liberation Serif',serif" font-size="16" fill="#8e8e8e" stroke="#8e8e8e" stroke-width="0.3" textLength="32" lengthAdjust="spacingAndGlyphs">ООО</text>
<text x="310.6" y="364.3" font-family="'Liberation Serif',serif" font-size="35.5" fill="#fff" stroke="#fff" stroke-width="2.6" textLength="179.5" lengthAdjust="spacingAndGlyphs">АГРОСНАБ</text>
<text x="310.6" y="364.3" font-family="'Liberation Serif',serif" font-size="35.5" fill="#9a9a9a" stroke="#9a9a9a" stroke-width="0.7" textLength="179.5" lengthAdjust="spacingAndGlyphs">АГРОСНАБ</text>
<path d="M510.3,117.7 L528.8,128.8" fill="none" stroke="#000" stroke-width="1.6" /><circle cx="503" cy="113.4" r="6.4" fill="#efefef" stroke="#b8b8b8" stroke-width="0.9"/><text class="c" x="503" y="117.2">1</text>
<path d="M115,357.3 L133,368" fill="none" stroke="#000" stroke-width="1.6" /><circle cx="107.7" cy="352.7" r="6.4" fill="#efefef" stroke="#b8b8b8" stroke-width="0.9"/><text class="c" x="107.7" y="356.5">2</text>
<path d="M426.8,402.3 L408.4,392.3" fill="none" stroke="#000" stroke-width="1.6" /><circle cx="434.5" cy="407.2" r="6.4" fill="#efefef" stroke="#b8b8b8" stroke-width="0.9"/><text class="c" x="434.5" y="411.0">3</text>
<path d="M340.3,606.1 L326.1,597.7" fill="none" stroke="#000" stroke-width="1.6" /><circle cx="349.4" cy="612.2" r="6.4" fill="#efefef" stroke="#b8b8b8" stroke-width="0.9"/><text class="c" x="349.4" y="616.0">4</text>
<path d="M306.5,620.8 L291.8,612" fill="none" stroke="#000" stroke-width="1.6" /><circle cx="314.8" cy="626.1" r="6.4" fill="#efefef" stroke="#b8b8b8" stroke-width="0.9"/><text class="c" x="314.8" y="629.9">5</text>
<path d="M408.8,47 L397,53.6" fill="none" stroke="#000" stroke-width="1.6" /><circle cx="418.6" cy="41.5" r="6.4" fill="#efefef" stroke="#b8b8b8" stroke-width="0.9"/><text class="c" x="418.6" y="45.3">6</text>
<path d="M283.8,65.4 L269.2,73" fill="none" stroke="#000" stroke-width="1.6" /><circle cx="293" cy="59.3" r="6.4" fill="#efefef" stroke="#b8b8b8" stroke-width="0.9"/><text class="c" x="293" y="63.099999999999994">7</text>
<path d="M105.7,168.3 L92.7,175.7" fill="none" stroke="#000" stroke-width="1.6" /><circle cx="112.6" cy="163.2" r="6.4" fill="#efefef" stroke="#b8b8b8" stroke-width="0.9"/><text class="c" x="112.6" y="167.0">7</text>
<path d="M413.6,123.4 L401.1,130.3" fill="none" stroke="#000" stroke-width="1.6" /><circle cx="422.5" cy="118.8" r="6.4" fill="#efefef" stroke="#b8b8b8" stroke-width="0.9"/><text class="c" x="422.5" y="122.6">8</text>
<path d="M213.8,215.4 L201.5,222.3" fill="none" stroke="#000" stroke-width="1.6" /><circle cx="222.2" cy="210.7" r="6.4" fill="#efefef" stroke="#b8b8b8" stroke-width="0.9"/><text class="c" x="222.2" y="214.5">8</text>
</svg>
</body></html>
